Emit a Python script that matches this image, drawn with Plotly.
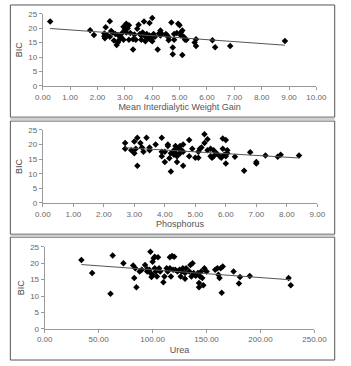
import numpy as np
import plotly.graph_objects as go

# Panel 1: Mean Interdialytic Weight Gain vs BIC
weight_gain = [0.27, 1.73, 1.87, 2.25, 2.25, 2.27, 2.30, 2.35, 2.45, 2.50, 2.55, 2.45, 2.60, 2.65, 2.70,
               2.75, 2.75, 2.80, 2.85, 2.90, 2.95, 2.95, 3.00, 3.05, 3.05, 3.10, 3.15, 3.15, 3.20, 3.30,
               3.30, 3.35, 3.40, 3.45, 3.50, 3.55, 3.60, 3.60, 3.65, 3.70, 3.75, 3.75, 3.80, 3.85, 3.90,
               3.90, 3.95, 3.95, 4.00, 4.00, 4.05, 4.10, 4.20, 4.25, 4.30, 4.30, 4.35, 4.50, 4.55, 4.60,
               4.60, 4.70, 4.75, 4.75, 4.80, 4.80, 4.90, 4.95, 5.00, 5.05, 5.05, 5.10, 5.10, 5.15, 5.20,
               5.25, 5.55, 5.60, 5.60, 6.20, 6.30, 6.85, 8.85]
bic_1 = [22.3, 19.3, 17.6, 18.2, 17.2, 16.5, 20.3, 17.6, 22.4, 19.0, 18.5, 17.0, 15.7, 18.0, 14.2,
         17.6, 15.1, 16.0, 17.0, 18.3, 20.5, 16.0, 19.5, 21.5, 18.5, 20.0, 21.0, 16.0, 18.3, 16.2,
         12.6, 17.8, 16.0, 19.8, 21.2, 18.0, 17.5, 16.0, 18.5, 22.3, 17.0, 15.5, 18.0, 16.5, 21.8,
         17.5, 16.5, 16.0, 23.5, 15.5, 18.0, 17.0, 12.6, 18.2, 19.2, 17.5, 18.0, 18.0, 17.5, 16.8,
         15.8, 22.0, 13.3, 11.0, 18.0, 16.0, 18.3, 21.5, 21.0, 18.5, 17.5, 19.2, 10.7, 17.0, 16.0,
         16.0, 15.0, 16.2, 13.8, 15.8, 13.4, 13.8, 15.6]

# Panel 2: Phosphorus vs BIC
phosphorus = [2.70, 2.70, 2.90, 3.00, 3.00, 3.05, 3.10, 3.10, 3.20, 3.25, 3.30, 3.40, 3.50, 3.50, 3.70,
              3.90, 3.90, 3.90, 4.00, 4.00, 4.10, 4.10, 4.15, 4.20, 4.20, 4.30, 4.30, 4.35, 4.35, 4.40,
              4.40, 4.45, 4.50, 4.50, 4.55, 4.60, 4.60, 4.60, 4.80, 4.80, 4.90, 5.00, 5.10, 5.10, 5.15,
              5.20, 5.30, 5.30, 5.40, 5.40, 5.50, 5.50, 5.55, 5.60, 5.60, 5.70, 5.80, 5.85, 5.90, 5.90,
              5.95, 6.00, 6.00, 6.00, 6.05, 6.05, 6.30, 6.60, 6.80, 7.00, 7.00, 7.30, 7.70, 7.80, 8.40]
bic_2 = [20.5, 18.5, 18.0, 21.0, 17.0, 18.5, 22.3, 12.7, 20.5, 19.0, 17.5, 22.3, 19.0, 18.0, 20.0,
         22.3, 17.5, 16.0, 14.0, 17.5, 20.0, 19.5, 15.3, 17.0, 10.8, 18.0, 16.5, 19.5, 17.2, 14.0,
         16.0, 18.5, 19.5, 17.0, 18.0, 20.0, 17.5, 12.7, 21.5, 16.0, 18.5, 15.5, 17.5, 15.5, 18.5,
         19.0, 23.5, 20.5, 21.8, 18.0, 18.5, 16.0, 15.5, 18.0, 16.0, 17.0, 16.0, 15.5, 22.0, 18.5,
         16.5, 21.5, 13.5, 16.0, 18.0, 17.0, 15.8, 11.0, 17.3, 14.0, 13.5, 16.2, 15.8, 16.5, 16.2]

# Panel 3: Urea vs BIC
urea = [34, 44, 61, 63, 73, 82, 83, 84, 85, 88, 90, 93, 95, 95, 97, 98, 98, 99, 100, 100,
        101, 102, 102, 103, 104, 105, 106, 107, 110, 111, 113, 114, 116, 116, 117, 118, 119, 120,
        121, 123, 125, 126, 127, 128, 130, 130, 131, 134, 135, 136, 137, 138, 140, 142, 143, 143,
        144, 145, 146, 147, 148, 150, 158, 160, 161, 162, 163, 164, 165, 175, 180, 181, 190, 226, 228]
bic_3 = [21.0, 17.0, 10.7, 22.4, 20.0, 19.3, 15.5, 18.5, 12.7, 17.5, 18.0, 19.5, 18.2, 17.5, 18.0,
         23.5, 17.0, 15.8, 20.5, 16.5, 21.5, 22.0, 18.5, 17.5, 16.0, 21.8, 18.5, 17.5, 14.2, 16.0,
         18.5, 17.5, 21.8, 18.5, 16.0, 22.2, 18.0, 22.0, 18.0, 17.5, 18.0, 16.0, 17.5, 18.5, 15.3,
         17.0, 18.5, 17.5, 19.5, 16.0, 20.0, 17.0, 16.2, 17.0, 14.0, 12.7, 16.0, 17.5, 15.5, 13.3,
         18.5, 17.5, 18.0, 18.5, 16.5, 15.5, 18.5, 11.0, 19.0, 17.5, 13.8, 15.8, 16.1, 15.5, 13.3]

x_titles = ["Mean Interdialytic Weight Gain", "Phosphorus", "Urea"]
x_ranges = [[0, 10], [0, 9], [0, 250]]
x_dtick = [1, 1, 50]

W, H = 351, 366

def py(p):
    return 1 - p / H

def px(p):
    return p / W

panels = [
    dict(x=weight_gain, y=bic_1, xd=[px(37), px(328)], yd=[py(84), py(10)]),
    dict(x=phosphorus, y=bic_2, xd=[px(37), px(329)], yd=[py(204), py(129)]),
    dict(x=urea, y=bic_3, xd=[px(39), px(326)], yd=[py(333), py(249)]),
]

fig = go.Figure()
font = "Liberation Sans, Arial, sans-serif"
axis_col = "#9a9a9a"
tick_font = dict(family=font, size=8, color="#666666")

for i, p in enumerate(panels):
    n = i + 1
    xa = "x" if n == 1 else f"x{n}"
    ya = "y" if n == 1 else f"y{n}"
    fig.add_trace(go.Scatter(x=p["x"], y=p["y"], mode="markers", xaxis=xa, yaxis=ya,
                             marker=dict(symbol="diamond", size=5, color="black"),
                             showlegend=False))
    xs = np.array(p["x"], dtype=float)
    ys = np.array(p["y"], dtype=float)
    m, b = np.polyfit(xs, ys, 1)
    xl = np.array([xs.min(), xs.max()])
    fig.add_trace(go.Scatter(x=xl, y=m * xl + b, mode="lines", xaxis=xa, yaxis=ya,
                             line=dict(color="#555555", width=1), showlegend=False))
    xkey = "xaxis" if n == 1 else f"xaxis{n}"
    ykey = "yaxis" if n == 1 else f"yaxis{n}"
    fig.layout[xkey] = dict(domain=p["xd"], range=x_ranges[i], anchor=ya, dtick=x_dtick[i],
                            tick0=0, tickformat=".2f", showgrid=False, zeroline=False,
                            showline=True, linecolor=axis_col, linewidth=1,
                            ticks="outside", ticklen=3, tickcolor=axis_col,
                            tickfont=tick_font,
                            title=dict(text=x_titles[i], font=dict(family=font, size=9, color="#555555"),
                                       standoff=3))
    fig.layout[ykey] = dict(domain=p["yd"], range=[0, 25], anchor=xa, dtick=5, tick0=0,
                            showgrid=False, zeroline=False, showline=True, linecolor=axis_col,
                            linewidth=1, ticks="outside", ticklen=3, tickcolor=axis_col,
                            tickfont=tick_font,
                            title=dict(text="BIC", font=dict(family=font, size=9, color="#444444"),
                                       standoff=4))

# panel frames and separators
shapes = []
for (top, bot) in [(1, 116), (120, 236), (239, 365)]:
    shapes.append(dict(type="rect", xref="paper", yref="paper", x0=px(2.5), x1=px(347.5),
                       y0=py(bot), y1=py(top), line=dict(color="#555555", width=1)))
for (a, b) in [(116.5, 119.5), (236.5, 238.5)]:
    shapes.append(dict(type="rect", xref="paper", yref="paper", x0=px(2.5), x1=px(347.5),
                       y0=py(b), y1=py(a), line=dict(width=0), fillcolor="#d0d0d0"))
fig.update_layout(shapes=shapes)

fig.update_layout(width=W, height=H, margin=dict(l=0, r=0, t=0, b=0),
                  paper_bgcolor="white", plot_bgcolor="white")
fig.write_html("out.html")
